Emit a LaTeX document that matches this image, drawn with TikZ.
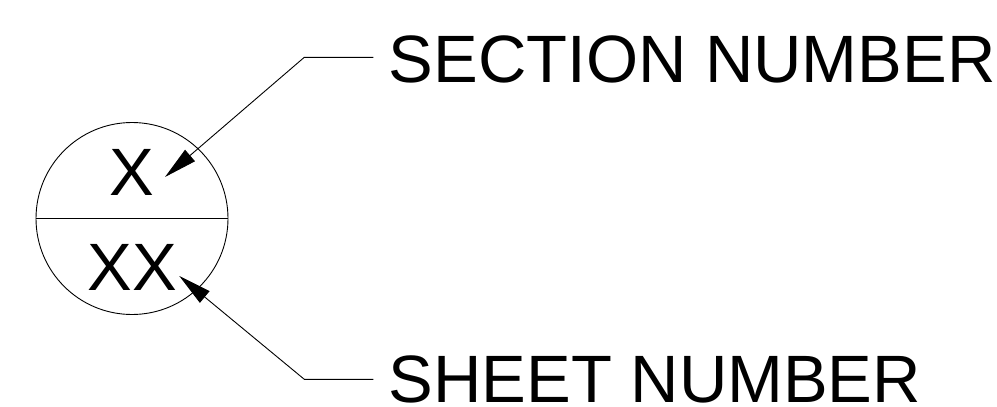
\documentclass[tikz,border=0pt]{standalone}
\usepackage{fontspec}
\setmainfont{Liberation Sans}
\usetikzlibrary{arrows.meta}
\begin{document}
\begin{tikzpicture}[x=1pt,y=-1pt,
  lbl/.style={inner sep=0pt,font=\fontsize{67}{80}\selectfont},
  ln/.style={line width=0.9pt},
  lead/.style={ln,-{Triangle[length=33pt,width=15pt]}}]
\useasboundingbox (0,0) rectangle (997,407);
\node[ln,draw,circle,minimum size=192pt,inner sep=0pt] (c) at (132,218.5) {};
\draw[ln] (c.west) -- (c.east);
\node[lbl,anchor=base] (x1) at (132,195) {X};
\node[lbl,anchor=base] (xx) at (132,290.7) {XX};
\node[lbl,anchor=base west] (sec) at (388.5,82) {SECTION NUMBER};
\node[lbl,anchor=base west] (sheet) at (388.5,402) {SHEET NUMBER};
\coordinate (a0) at (373.3,57.3);
\coordinate (a1) at (304.3,57.3);
\coordinate (at) at (165,177);
\coordinate (b0) at (373.3,379.3);
\coordinate (b1) at (304.3,379.3);
\coordinate (bt) at (179.3,276);
\draw[lead] (a0) -- (a1) -- (at);
\draw[lead] (b0) -- (b1) -- (bt);
\end{tikzpicture}
\end{document}
